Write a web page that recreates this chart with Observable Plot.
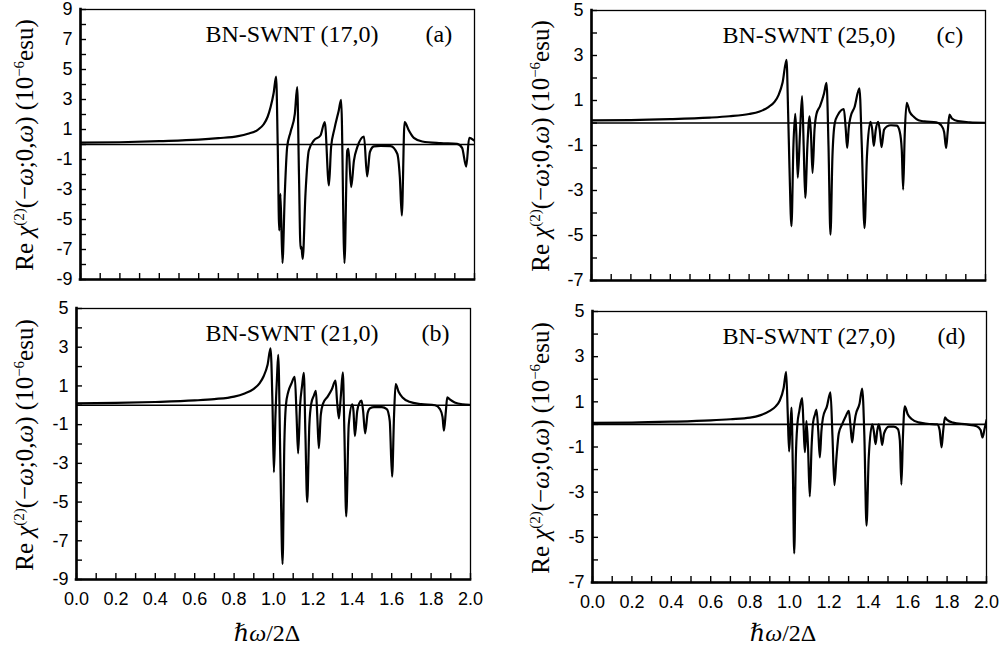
<!DOCTYPE html>
<html><head><meta charset="utf-8">
<script src="https://cdn.jsdelivr.net/npm/d3@7"></script>
<script src="https://cdn.jsdelivr.net/npm/@observablehq/plot@0.6"></script>
<style>
body{margin:0;background:#fff;}
#root{position:relative;width:1001px;height:651px;overflow:hidden;background:#fff;}
.panel{position:absolute;}
.ylab{position:absolute;white-space:nowrap;font-family:"Liberation Serif","Times New Roman",serif;font-size:25px;line-height:1;transform:translate(-50%,-50%) rotate(-90deg);color:#000;}
.ylab sup{font-size:0.6em;line-height:0;vertical-align:0.55em;}
.xlab{position:absolute;white-space:nowrap;font-family:"Liberation Serif","DejaVu Serif","Times New Roman",serif;font-size:24px;line-height:1;transform:translateX(-50%);color:#000;}
</style></head>
<body><div id="root"></div>
<script>
// ---- tick values ----
const xMinorTicks = [0.0,0.1,0.2,0.3,0.4,0.5,0.6,0.7,0.8,0.9,1.0,1.1,1.2,1.3,1.4,1.5,1.6,1.7,1.8,1.9,2.0];
const xLabelTicks = [0.0,0.2,0.4,0.6,0.8,1.0,1.2,1.4,1.6,1.8,2.0];
const yLabelsA = [-9,-7,-5,-3,-1,1,3,5,7,9];
const yMinorA = [-9,-8,-7,-6,-5,-4,-3,-2,-1,0,1,2,3,4,5,6,7,8,9];
const yLabelsB = [-9,-7,-5,-3,-1,1,3,5];
const yMinorB = [-9,-8,-7,-6,-5,-4,-3,-2,-1,0,1,2,3,4,5];
const yLabelsCD = [-7,-5,-3,-1,1,3,5];
const yMinorCD = [-7,-6,-5,-4,-3,-2,-1,0,1,2,3,4,5];

// ---- titles ----
const titles = ["BN-SWNT (17,0)", "BN-SWNT (21,0)", "BN-SWNT (25,0)", "BN-SWNT (27,0)"];
const tags = ["(a)", "(b)", "(c)", "(d)"];

// ---- series: [ħω/2Δ, Re χ(2) (10^-6 esu)] ----
const seriesA = [
[0.00,0.12],[0.20,0.15],[0.40,0.22],[0.60,0.32],[0.70,0.42],[0.80,0.56],[0.85,0.72],[0.90,0.98],[0.93,1.35],[0.95,1.85],[0.965,2.5],[0.98,3.4],[0.993,4.53],
[1.001,0.04],[1.009,-5.73],[1.015,-3.29],[1.025,-7.9],[1.037,-3.3],[1.049,-0.18],[1.066,0.82],[1.088,2.04],[1.100,3.82],
[1.109,-2.0],[1.117,-6.95],[1.121,-6.8],[1.128,-7.62],[1.142,-3.3],[1.159,-0.4],[1.185,0.27],[1.218,0.6],[1.240,1.49],
[1.261,-2.73],[1.272,-0.18],[1.289,1.04],[1.311,2.27],[1.323,2.98],
[1.340,-7.9],[1.354,-0.4],[1.360,-0.29],[1.374,-2.84],[1.388,-1.07],[1.405,-0.18],[1.439,0.53],
[1.455,-2.13],[1.469,-0.51],[1.489,-0.13],[1.523,-0.09],[1.574,-0.11],[1.608,-0.62],[1.621,-2.18],[1.631,-4.73],
[1.645,1.49],[1.667,0.93],[1.692,0.44],[1.735,0.2],[1.828,0.09],[1.912,0.04],[1.937,-0.22],[1.958,-1.47],
[1.973,0.44],[1.997,0.27]
];
const seriesB = [
[0.00,0.10],[0.20,0.12],[0.40,0.17],[0.60,0.25],[0.70,0.32],[0.80,0.45],[0.85,0.6],[0.90,0.85],[0.93,1.15],[0.95,1.5],[0.97,2.1],[0.985,2.94],
[0.995,0.0],[1.002,-3.46],[1.010,-0.5],[1.018,1.5],[1.024,2.6],[1.035,-3.0],[1.046,-8.2],[1.055,-2.0],[1.063,0.0],[1.075,0.7],[1.09,1.1],[1.108,1.47],
[1.117,-0.5],[1.125,-2.48],[1.135,0.0],[1.145,1.0],[1.154,1.67],[1.162,-1.5],[1.171,-5.0],[1.182,-1.0],[1.192,0.1],[1.205,0.5],[1.215,0.75],
[1.222,-0.5],[1.23,-2.22],[1.24,-0.5],[1.252,0.1],[1.275,0.45],[1.295,0.8],[1.315,1.27],[1.322,0.3],[1.332,-0.68],[1.342,0.5],[1.352,1.7],
[1.36,-1.5],[1.369,-5.74],[1.382,-1.0],[1.40,0.05],[1.406,-0.3],[1.413,-1.59],[1.425,-0.3],[1.435,0.1],[1.447,0.24],[1.455,-0.3],[1.465,-1.45],
[1.478,-0.4],[1.49,-0.15],[1.51,-0.1],[1.55,-0.1],[1.575,-0.2],[1.59,-0.8],[1.602,-3.69],[1.612,-0.5],[1.62,1.1],[1.635,0.7],[1.655,0.4],
[1.69,0.18],[1.75,0.06],[1.82,0.0],[1.845,-0.2],[1.858,-0.6],[1.865,-1.31],[1.875,-0.3],[1.882,0.41],[1.895,0.3],[1.92,0.15],[1.96,0.05],[2.00,0.02]
];
const seriesC = [
[0.00,0.12],[0.20,0.13],[0.40,0.17],[0.60,0.24],[0.70,0.3],[0.80,0.4],[0.85,0.5],[0.90,0.72],[0.93,0.95],[0.95,1.25],[0.97,1.8],[0.99,2.81],
[0.998,0.5],[1.005,-2.0],[1.015,-4.59],[1.025,-1.0],[1.034,0.41],[1.040,-0.5],[1.047,-2.43],[1.058,-0.5],[1.069,1.2],[1.077,-1.0],[1.085,-3.33],
[1.096,-1.0],[1.107,0.3],[1.114,-0.5],[1.122,-2.22],[1.132,-0.3],[1.142,0.4],[1.16,0.75],[1.18,1.3],[1.193,1.78],[1.203,-1.0],[1.213,-4.96],
[1.223,-1.5],[1.235,0.0],[1.25,0.35],[1.281,0.62],[1.29,-0.2],[1.298,-1.11],[1.306,-0.2],[1.315,0.27],[1.335,0.7],[1.36,1.54],[1.372,-1.0],
[1.386,-4.67],[1.398,-1.5],[1.416,0.05],[1.425,-0.3],[1.433,-1.02],[1.443,-0.3],[1.455,0.05],[1.463,-0.3],[1.472,-1.07],[1.485,-0.3],
[1.50,-0.15],[1.52,-0.1],[1.55,-0.12],[1.565,-0.4],[1.575,-1.2],[1.582,-2.96],[1.590,-0.5],[1.60,0.9],[1.615,0.5],[1.637,0.27],[1.66,0.12],
[1.69,0.07],[1.75,0.03],[1.775,-0.1],[1.79,-0.4],[1.80,-1.11],[1.808,-0.4],[1.817,0.37],[1.83,0.2],[1.86,0.08],[1.92,0.03],[2.00,0.01]
];
const seriesD = [
[0.00,0.07],[0.20,0.08],[0.40,0.12],[0.60,0.18],[0.70,0.23],[0.80,0.3],[0.85,0.4],[0.90,0.6],[0.93,0.8],[0.95,1.05],[0.97,1.6],[0.983,2.33],
[0.991,0.5],[0.998,-1.2],[1.004,-0.2],[1.01,0.75],[1.017,-2.0],[1.024,-5.71],[1.032,-1.5],[1.04,0.0],[1.05,0.6],[1.064,1.16],[1.071,0.0],
[1.078,-1.23],[1.083,-0.5],[1.086,0.15],[1.094,-1.0],[1.103,-3.19],[1.112,-1.0],[1.12,0.1],[1.13,0.45],[1.137,0.65],[1.146,-0.3],[1.154,-1.46],
[1.162,-0.3],[1.17,0.3],[1.19,0.8],[1.208,1.42],[1.218,-0.5],[1.228,-2.69],[1.238,-1.5],[1.25,-0.4],[1.267,0.0],[1.285,0.35],[1.301,0.6],
[1.309,0.0],[1.318,-0.8],[1.326,-0.2],[1.335,0.38],[1.355,0.9],[1.369,1.59],[1.38,-0.5],[1.391,-4.48],[1.402,-1.5],[1.42,0.0],[1.428,-0.3],
[1.437,-0.87],[1.445,-0.3],[1.453,0.0],[1.461,-0.3],[1.47,-0.91],[1.48,-0.4],[1.504,-0.1],[1.53,-0.1],[1.55,-0.2],[1.56,-0.7],[1.568,-2.67],
[1.576,-0.5],[1.585,0.8],[1.60,0.45],[1.62,0.24],[1.654,0.09],[1.70,0.03],[1.75,0.0],[1.762,-0.25],[1.772,-1.02],[1.78,-0.3],[1.789,0.31],
[1.80,0.2],[1.83,0.08],[1.90,0.0],[1.95,-0.08],[1.97,-0.25],[1.98,-0.58],[1.99,-0.2],[2.00,0.19]
];

const serif = "Liberation Serif, Times New Roman, serif";
const sans = "Liberation Sans, Arial, Helvetica, sans-serif";

const panels = [
  {left:0, top:0, width:500, height:290, ml:80, mr:26, mt:9, mb:11, yd:[-9,9], yl:yLabelsA, ym:yMinorA, title:titles[0], tag:tags[0], tdx:125, series:seriesA, showX:false},
  {left:0, top:290, width:500, height:330, ml:76, mr:30, mt:18, mb:41, yd:[-9,5], yl:yLabelsB, ym:yMinorB, title:titles[1], tag:tags[1], tdx:129, series:seriesB, showX:true},
  {left:500, top:0, width:501, height:290, ml:91, mr:16, mt:10, mb:10, yd:[-7,5], yl:yLabelsCD, ym:yMinorCD, title:titles[2], tag:tags[2], tdx:131, series:seriesC, showX:false},
  {left:500, top:290, width:501, height:330, ml:92, mr:15, mt:21, mb:38, yd:[-7,5], yl:yLabelsCD, ym:yMinorCD, title:titles[3], tag:tags[3], tdx:130, series:seriesD, showX:true}
];

const root = document.getElementById("root");

for (const p of panels) {
  const fw = p.width - p.ml - p.mr, fh = p.height - p.mt - p.mb;
  const marks = [
    Plot.ruleY([0], {strokeWidth: 1.6}),
    Plot.line(p.series, {x: d => d[0], y: d => d[1], curve: "monotone-x", strokeWidth: 2.2, strokeLinejoin: "round", clip: true}),
    Plot.tickX(xMinorTicks, {x: d => d, insetTop: fh - 6, strokeWidth: 1.4}),
    Plot.tickY(p.ym, {y: d => d, insetRight: fw - 6, strokeWidth: 1.4}),
    Plot.frame({strokeWidth: 1.3}),
    Plot.ruleX([0], {strokeWidth: 2.6, strokeLinecap: "square"}),
    Plot.ruleY([p.yd[0]], {strokeWidth: 2.6, strokeLinecap: "square"}),
    Plot.axisY(p.yl, {tickSize: 0, tickPadding: 8, tickFormat: d => String(d), label: null}),
    Plot.text([p.title], {frameAnchor: "top-left", dx: p.tdx, dy: 24.5, textAnchor: "start", lineAnchor: "middle", fontSize: 24, fontFamily: serif}),
    Plot.text([p.tag], {frameAnchor: "top-left", dx: 345, dy: 24.5, textAnchor: "start", lineAnchor: "middle", fontSize: 24, fontFamily: serif})
  ];
  if (p.showX) marks.push(Plot.axisX(xLabelTicks, {tickSize: 0, tickPadding: 13, tickFormat: d3.format(".1f"), label: null}));
  const svg = Plot.plot({
    width: p.width, height: p.height,
    marginLeft: p.ml, marginRight: p.mr, marginTop: p.mt, marginBottom: p.mb,
    x: {domain: [0, 2], axis: null},
    y: {domain: p.yd, axis: null},
    style: {fontFamily: sans, fontSize: "18px", background: "transparent", color: "#000", overflow: "visible"},
    marks
  });
  svg.classList.add("panel");
  svg.style.left = p.left + "px";
  svg.style.top = p.top + "px";
  root.appendChild(svg);

  const yl = document.createElement("div");
  yl.className = "ylab";
  yl.innerHTML = 'Re <i>χ</i><sup>(2)</sup>(−<i>ω</i>;0,<i>ω</i>) (10<sup>−6</sup>esu)';
  yl.style.left = (p.left + (p.left === 0 ? 24 : 40)) + "px";
  yl.style.top = (p.top + p.mt + fh / 2 + 1) + "px";
  root.appendChild(yl);

  if (p.showX) {
    const xl = document.createElement("div");
    xl.className = "xlab";
    xl.innerHTML = '<i>ℏω</i>/2Δ';
    xl.style.left = (p.left + p.ml + fw / 2 - 6) + "px";
    xl.style.top = "621px";
    root.appendChild(xl);
  }
}
</script>
</body></html>
